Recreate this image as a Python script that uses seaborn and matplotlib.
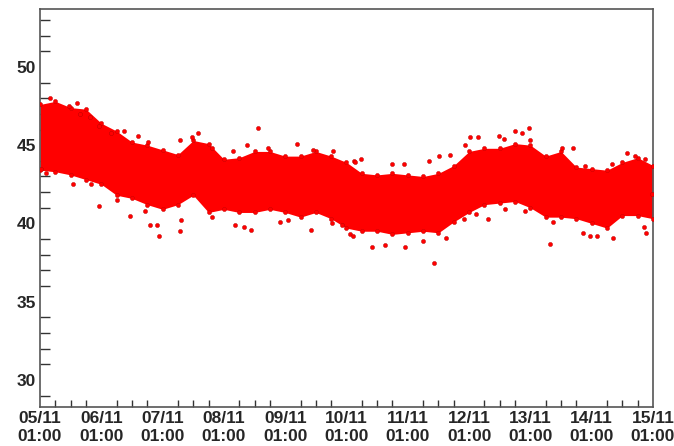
import pandas as pd
import matplotlib
matplotlib.use('Agg')
import matplotlib.pyplot as plt
import matplotlib.dates as mdates
import seaborn as sns

# band of the dense point cloud, read every 6 hours from 05/11 01:00
upper = [47.6, 47.8, 47.4, 47.3, 46.4, 45.9, 45.2, 45.0, 44.7, 44.4, 45.3,
         45.1, 44.1, 44.2, 44.6, 44.6, 44.3, 44.3, 44.6, 44.3, 43.9,
         43.2, 43.1, 43.2, 43.1, 43.0, 43.2, 43.7, 44.6, 44.8, 44.8,
         45.1, 45.0, 44.3, 44.6, 43.6, 43.5, 43.4, 43.9, 44.2, 43.7]
lower = [43.4, 43.3, 43.1, 42.8, 42.5, 41.8, 41.6, 41.2, 40.9, 41.2, 41.8,
         40.7, 40.9, 40.7, 40.7, 40.9, 40.7, 40.4, 40.7, 40.3, 39.7,
         39.5, 39.5, 39.3, 39.4, 39.5, 39.4, 40.1, 40.7, 41.2, 41.3,
         41.4, 41.0, 40.4, 40.4, 40.3, 40.0, 39.7, 40.5, 40.5, 40.3]

# scattered points outside the dense band (days after 05/11 01:00, value)
pt_days = [0.17, 0.48, 0.60, 0.65, 0.82, 0.97, 1.37, 1.16, 1.60, 1.76, 2.28, 2.48,
           0.97, 0.54, 0.09, 0.02, 1.47, 1.79, 1.91, 1.94, 2.29, 2.30, 1.72, 1.25, 0.84,
           3.56, 2.57, 3.37, 3.72, 4.19, 4.46, 4.78, 5.13, 2.81, 3.15,
           3.45, 3.32, 3.18, 2.80, 3.92, 4.05, 4.42, 4.77, 5.06, 4.92,
           5.24, 5.14, 5.74, 5.93, 6.34, 6.51, 6.69, 6.93, 7.01, 7.15, 7.49, 7.57,
           5.41, 5.63, 5.95, 6.25, 6.42, 6.63, 6.91, 7.31, 7.11, 5.11,
           7.97, 7.75, 7.86, 7.99, 8.51, 8.69, 8.89, 9.33, 9.57, 9.71, 9.87,
           8.32, 7.59, 7.91, 8.37, 8.85, 8.97, 9.09, 9.35, 9.89, 9.85, 9.98]
pt_vals = [48.0, 47.5, 47.7, 47.0, 46.8, 46.2, 45.9, 45.8, 45.6, 45.2, 45.3, 45.5,
           41.1, 42.5, 43.2, 43.5, 40.5, 39.9, 39.9, 39.2, 39.5, 40.2, 40.8, 41.5, 42.5,
           46.1, 45.8, 45.0, 44.8, 45.1, 44.7, 44.6, 44.0, 44.8, 44.6,
           39.6, 39.8, 39.9, 40.4, 40.1, 40.2, 39.6, 40.0, 39.3, 39.9,
           44.1, 43.9, 43.8, 43.8, 44.0, 44.3, 44.4, 45.0, 45.5, 45.5, 45.6, 45.4,
           38.5, 38.6, 38.5, 38.9, 37.5, 39.1, 40.3, 40.3, 40.6, 39.2,
           46.1, 45.9, 45.8, 45.3, 44.8, 44.8, 43.7, 43.8, 44.5, 44.3, 44.1,
           38.7, 40.9, 40.8, 40.1, 39.4, 39.2, 39.2, 39.1, 39.4, 39.8, 41.9]

tick_labels = ['05/11\n01:00', '06/11\n01:00', '07/11\n01:00', '08/11\n01:00',
               '09/11\n01:00', '10/11\n01:00', '11/11\n01:00', '12/11\n01:00',
               '13/11\n01:00', '14/11\n01:00', '15/11\n01:00']

start = pd.Timestamp('2012-11-05 01:00')
band_t = pd.date_range(start, periods=len(upper), freq='6h')
pts = pd.DataFrame({'time': start + pd.to_timedelta(pt_days, unit='D'), 'value': pt_vals})
edge = pd.DataFrame({'time': list(band_t) * 2, 'value': upper + lower})

sns.set_style('white')
plt.rcParams['font.family'] = ['Liberation Sans', 'DejaVu Sans']

fig = plt.figure(figsize=(6.74, 4.46), dpi=100)
ax = fig.add_axes([40 / 674, 39 / 446, 613 / 674, 398 / 446])

ax.fill_between(band_t, lower, upper, color='red', lw=0)
sns.scatterplot(data=edge, x='time', y='value', color='red', s=9, linewidth=0.3,
                edgecolor='#c00000', ax=ax, zorder=3)
sns.scatterplot(data=pts, x='time', y='value', color='red', s=9, linewidth=0.3,
                edgecolor='#b00000', ax=ax, zorder=3)

ax.set_xlim(start, start + pd.Timedelta(days=10))
ax.set_ylim(28.27, 53.7)
ax.set_xlabel('')
ax.set_ylabel('')

ax.set_xticks(pd.date_range(start, periods=len(tick_labels), freq='D'))
ax.set_xticklabels(tick_labels)
ax.xaxis.set_minor_locator(mdates.HourLocator(byhour=[1, 7, 13, 19]))
ax.set_yticks([30, 35, 40, 45, 50])
ax.yaxis.set_minor_locator(matplotlib.ticker.MultipleLocator(1))

for lab in ax.get_xticklabels() + ax.get_yticklabels():
    lab.set_fontweight('bold')
    lab.set_fontsize(12.5)
for lab in ax.get_xticklabels():
    lab.set_linespacing(1.2)

ax.tick_params(axis='y', which='major', direction='in', length=13.5, width=1, color='#333333', pad=3)
ax.tick_params(axis='y', which='minor', direction='in', length=7.2, width=1, color='#333333', left=True)
ax.tick_params(axis='x', which='major', direction='in', length=8.6, width=1, color='#333333', pad=3)
ax.tick_params(axis='x', which='minor', direction='in', length=5, width=1, color='#333333', bottom=True)

for sp in ax.spines.values():
    sp.set_visible(True)
    sp.set_color('#555555')
    sp.set_linewidth(1.2)

fig.savefig('out.png', dpi=100)
